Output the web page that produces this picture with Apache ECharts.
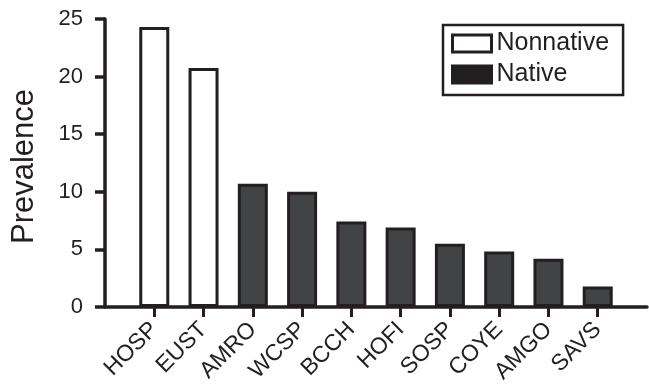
<!DOCTYPE html>
<html>
<head>
<meta charset="utf-8">
<script src="https://cdn.jsdelivr.net/npm/echarts@6/dist/echarts.min.js"></script>
<style>html,body{margin:0;padding:0;background:#fff}#c{width:649px;height:391px}</style>
</head>
<body>
<div id="c"></div>
<script>
var categories = ['HOSP','EUST','AMRO','WCSP','BCCH','HOFI','SOSP','COYE','AMGO','SAVS'];
var nonnative = [24.3, 20.75, null, null, null, null, null, null, null, null];
var native = [null, null, 10.7, 10.0, 7.42, 6.9, 5.49, 4.82, 4.18, 1.78];
var yTicks = [0, 5, 10, 15, 20, 25];

var INK = '#231f20';
var FILL = '#424345';
var FONT = '"Liberation Sans", Arial, Helvetica, sans-serif';

// categories sit at positions 1..N on the x axis; the axis runs from 0 to N+1
var positions = categories.map(function(c, i){ return i + 1; });
function toPairs(arr){
  var out = [];
  arr.forEach(function(v, i){ if (v != null) out.push([positions[i], v]); });
  return out;
}

var chart = echarts.init(document.getElementById('c'), null, {renderer:'canvas'});
chart.setOption({
  animation: false,
  backgroundColor: '#fff',
  textStyle: {fontFamily: FONT, color: INK},
  grid: {left: 105, right: 2, top: 19, bottom: 84, containLabel: false, outerBoundsMode: 'none'},
  legend: {
    left: 443, top: 25,
    orient: 'vertical',
    padding: [6, 14, 8, 8],
    borderColor: INK, borderWidth: 2.5,
    itemWidth: 39, itemHeight: 17, itemGap: 6,
    textStyle: {fontSize: 25, color: INK, fontFamily: FONT},
    data: [
      {name: 'Nonnative', icon: 'rect', itemStyle: {color: '#fff', borderColor: INK, borderWidth: 3}},
      {name: 'Native', icon: 'rect', itemStyle: {color: INK, borderColor: INK, borderWidth: 3}}
    ]
  },
  xAxis: {
    type: 'value',
    min: 0, max: categories.length + 1, interval: 1,
    axisLine: {show: true, onZero: false, lineStyle: {color: INK, width: 3.5}},
    axisTick: {
      show: true, length: 10, customValues: positions,
      lineStyle: {color: INK, width: 3}
    },
    axisLabel: {
      rotate: 45, fontSize: 23, margin: 19, color: INK, fontFamily: FONT,
      customValues: positions,
      formatter: function(v){ var c = categories[Math.round(v) - 1]; return c || ''; }
    },
    splitLine: {show: false}
  },
  yAxis: {
    type: 'value',
    min: yTicks[0], max: yTicks[yTicks.length-1], interval: 5,
    name: 'Prevalence', nameLocation: 'middle', nameGap: 65,
    nameTextStyle: {fontSize: 31, color: INK, fontFamily: FONT, padding: [0, 7, 0, 0]},
    axisLine: {show: true, lineStyle: {color: INK, width: 3.5}},
    axisTick: {show: true, length: 10, lineStyle: {color: INK, width: 3.5}},
    axisLabel: {fontSize: 22, margin: 22, color: INK, fontFamily: FONT},
    splitLine: {show: false}
  },
  series: [
    {
      name: 'Nonnative', type: 'bar', data: toPairs(nonnative),
      barWidth: 30, barGap: '-100%',
      itemStyle: {color: '#fff', borderColor: INK, borderWidth: 3}
    },
    {
      name: 'Native', type: 'bar', data: toPairs(native),
      barWidth: 30, barGap: '-100%',
      itemStyle: {color: FILL, borderColor: INK, borderWidth: 3}
    }
  ]
});
</script>
</body>
</html>
